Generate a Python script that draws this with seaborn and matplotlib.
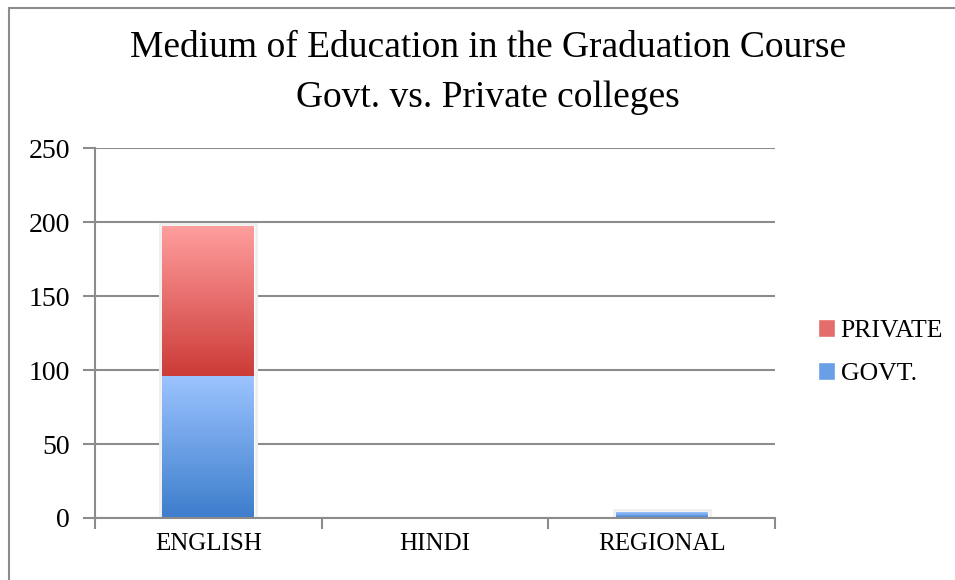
import numpy as np
import pandas as pd
import matplotlib
matplotlib.use("Agg")
import matplotlib.pyplot as plt
import matplotlib.patheffects as pe
from matplotlib.patches import Rectangle
from matplotlib.colors import LinearSegmentedColormap
import seaborn as sns

# Data
categories = ["ENGLISH", "HINDI", "REGIONAL"]
govt = [96, 0, 4]
private = [101, 0, 0]
y_ticks = [0, 50, 100, 150, 200, 250]

sns.set_theme(style="white")
plt.rcParams["font.family"] = ["Liberation Serif", "DejaVu Serif"]
plt.rcParams["text.color"] = "black"

GRID = "#8c8c8c"
priv_top, priv_bot = "#ff9e9e", "#cc3b37"
govt_top, govt_bot = "#9cc4ff", "#3d7dcc"

fig = plt.figure(figsize=(9.55, 5.8), dpi=100)
ax = fig.add_axes([0.0995, 0.1069, 0.712, 0.6379])

df = pd.DataFrame({"medium": categories, "govt": govt, "private": private})

sns.barplot(data=df, x="medium", y="private", color=priv_bot, width=0.405,
            saturation=1, ax=ax, zorder=3)
n_priv = len(ax.patches)
sns.barplot(data=df, x="medium", y="govt", color=govt_bot, width=0.405,
            saturation=1, ax=ax, zorder=3)

priv_patches = ax.patches[:n_priv]
govt_patches = ax.patches[n_priv:]
# stack private on top of govt
for p, g in zip(priv_patches, govt):
    p.set_y(g)

def fill_gradient(patch, top, bottom):
    x0, y0 = patch.get_x(), patch.get_y()
    w, h = patch.get_width(), patch.get_height()
    if h <= 0:
        patch.set_visible(False)
        return
    cmap = LinearSegmentedColormap.from_list("g", [bottom, top])
    grad = np.linspace(0, 1, 256).reshape(-1, 1)
    im = ax.imshow(grad, cmap=cmap, aspect="auto", origin="lower",
                   extent=(x0, x0 + w, y0, y0 + h), zorder=4,
                   interpolation="bilinear")
    im.set_clip_path(patch)
    patch.set_path_effects([
        pe.SimplePatchShadow(offset=(1.5, -1.5), shadow_rgbFace="#9a9a9a",
                             alpha=0.35),
        pe.Stroke(linewidth=5, foreground="#efefef"),
        pe.Normal()])

for p in priv_patches:
    fill_gradient(p, priv_top, priv_bot)
for p in govt_patches:
    fill_gradient(p, govt_top, govt_bot)

ax.set_xlim(-0.5, 2.5)
ax.set_ylim(0, 250)
ax.set_yticks(y_ticks)
ax.set_yticklabels([str(v) for v in y_ticks])
ax.yaxis.grid(True, color=GRID, linewidth=1.5, zorder=0)
ax.set_axisbelow(True)
ax.set_xlabel("")
ax.set_ylabel("")

for s in ["top", "right"]:
    ax.spines[s].set_visible(False)
for s in ["left", "bottom"]:
    ax.spines[s].set_color(GRID)
    ax.spines[s].set_linewidth(1.5)
ax.spines["bottom"].set_zorder(6)

ax.tick_params(axis="y", which="major", direction="out", length=9, width=1.5,
               color=GRID, left=True, labelsize=20, labelcolor="black", pad=9)
ax.tick_params(axis="x", which="major", length=0, labelsize=18,
               labelcolor="black", pad=11)
ax.set_xticks(range(len(categories)))
ax.set_xticklabels(categories)
ax.set_xticks([-0.5, 0.5, 1.5, 2.5], minor=True)
ax.tick_params(axis="x", which="minor", direction="out", length=8, width=1.5,
               color=GRID, bottom=True)

# legend
handles = [Rectangle((0, 0), 1, 1, facecolor="#e46c6a"),
           Rectangle((0, 0), 1, 1, facecolor="#6a9ee6")]
leg = fig.legend(handles, ["PRIVATE", "GOVT."], loc="center left",
                 bbox_to_anchor=(0.8565, 0.393), frameon=False, fontsize=18.5,
                 handlelength=0.68, handleheight=0.68, handletextpad=0.2,
                 labelspacing=0.8, borderpad=0, borderaxespad=0)

# title
fig.text(0.511, 0.917, "Medium of Education in the Graduation Course",
         ha="center", va="center", fontsize=27)
fig.text(0.511, 0.831, "Govt. vs. Private colleges",
         ha="center", va="center", fontsize=27)

# chart frame
fig.patches.append(Rectangle((9 / 955, -0.1), 1.2, 1.1 - 8 / 580,
                             transform=fig.transFigure, fill=False,
                             edgecolor=GRID, linewidth=1.5))

fig.savefig("out.png", dpi=100)
